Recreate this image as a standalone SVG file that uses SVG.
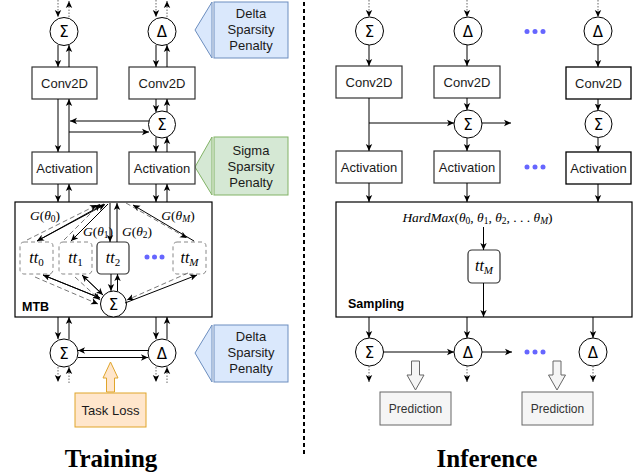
<svg xmlns="http://www.w3.org/2000/svg" width="639" height="475" viewBox="0 0 639 475">
<defs>
<marker id="ah" markerWidth="8" markerHeight="8" refX="7" refY="4" orient="auto" markerUnits="userSpaceOnUse">
<path d="M0,0.8 L7,4 L0,7.2 L1.8,4 z" fill="#000"/>
</marker>
<style>
.box{fill:#fff;stroke:#333;stroke-width:1.2}
.circ{fill:#fff;stroke:#000;stroke-width:1}
.lbl{font-family:"Liberation Sans",Arial,sans-serif;font-size:13px;fill:#1a1a1a;text-anchor:middle}
.sym{font-family:"DejaVu Sans",sans-serif;font-size:15px;fill:#000;text-anchor:middle}
.math{font-family:"Liberation Serif","DejaVu Serif",serif;font-style:italic;fill:#000;text-anchor:middle}
.up{font-style:normal}
.c{fill:none;stroke:#000;stroke-width:1;marker-end:url(#ah)}
.dot{fill:none;stroke:#666;stroke-width:1;stroke-dasharray:1.5,1.5;marker-end:url(#ah)}
.dash{fill:none;stroke:#555;stroke-width:0.8;stroke-dasharray:5,3;marker-end:url(#ah)}
.bold{font-family:"Liberation Sans",Arial,sans-serif;font-weight:bold;font-size:12.5px;fill:#000}
.title{font-family:"Liberation Serif","Times New Roman",serif;font-weight:bold;font-size:25px;fill:#000;text-anchor:middle}
.bdot{fill:#6666ff}
.pred{fill:#f5f5f5;stroke:#666;stroke-width:1}
.predt{font-family:"Liberation Sans",Arial,sans-serif;font-size:12px;fill:#333;text-anchor:middle}
</style>
</defs>
<rect width="639" height="475" fill="#fff"/>

<!-- divider -->
<line x1="304" y1="2" x2="304" y2="456" stroke="#000" stroke-width="2" stroke-dasharray="4,3"/>

<!-- ===== TRAINING ===== -->
<g id="mtb">
<rect x="15" y="202" width="197" height="115" fill="#fff" stroke="#000" stroke-width="1.2"/>
<text class="bold" x="22" y="311">MTB</text>
</g>

<g id="callout-delta-top">
<polygon points="212,2 195,30 212,58" fill="#dae8fc" stroke="#6c8ebf" stroke-width="1"/>
<rect x="214" y="2" width="74" height="56" fill="#dae8fc" stroke="#6c8ebf" stroke-width="1"/>
<text class="lbl" x="251" y="18">Delta</text>
<text class="lbl" x="251" y="34">Sparsity</text>
<text class="lbl" x="251" y="50">Penalty</text>
</g>
<g id="callout-sigma">
<polygon points="212,137 195,167 212,195" fill="#d5e8d4" stroke="#82b366" stroke-width="1"/>
<rect x="214" y="137" width="74" height="58" fill="#d5e8d4" stroke="#82b366" stroke-width="1"/>
<text class="lbl" x="251" y="155">Sigma</text>
<text class="lbl" x="251" y="171">Sparsity</text>
<text class="lbl" x="251" y="187">Penalty</text>
</g>
<g id="callout-delta-bottom">
<polygon points="212,325 195,353 212,382" fill="#dae8fc" stroke="#6c8ebf" stroke-width="1"/>
<rect x="214" y="325" width="74" height="57" fill="#dae8fc" stroke="#6c8ebf" stroke-width="1"/>
<text class="lbl" x="251" y="341">Delta</text>
<text class="lbl" x="251" y="357">Sparsity</text>
<text class="lbl" x="251" y="373">Penalty</text>
</g>

<g id="t-sum-top"><circle class="circ" cx="64" cy="31.5" r="14"/><text class="sym" x="64" y="37">Σ</text></g>
<g id="t-delta-top"><circle class="circ" cx="162" cy="31.5" r="14"/><text class="sym" x="162" y="37">Δ</text></g>
<g id="t-conv1"><rect class="box" x="32" y="67" width="65" height="32"/><text class="lbl" x="64.5" y="88">Conv2D</text></g>
<g id="t-conv2"><rect class="box" x="129" y="67" width="66" height="32"/><text class="lbl" x="162" y="88">Conv2D</text></g>
<g id="t-sum-mid"><circle class="circ" cx="162" cy="124.5" r="13.5"/><text class="sym" x="162" y="130">Σ</text></g>
<g id="t-act1"><rect class="box" x="32" y="152" width="65" height="32"/><text class="lbl" x="64.5" y="172.5">Activation</text></g>
<g id="t-act2"><rect class="box" x="129" y="152" width="66" height="32"/><text class="lbl" x="162" y="172.5">Activation</text></g>

<g id="tt0"><rect x="20" y="242" width="33" height="32" rx="4" fill="#fff" stroke="#888" stroke-dasharray="4,3"/><text class="math" x="36.5" y="263" font-size="16">tt<tspan class="up" font-size="11" dy="3">0</tspan></text></g>
<g id="tt1"><rect x="59" y="242" width="33" height="32" rx="4" fill="#fff" stroke="#888" stroke-dasharray="4,3"/><text class="math" x="75.5" y="263" font-size="16">tt<tspan class="up" font-size="11" dy="3">1</tspan></text></g>
<g id="tt2"><rect x="97" y="242" width="32" height="32" rx="4" fill="#fff" stroke="#333" stroke-width="1.2"/><text class="math" x="113" y="263" font-size="16">tt<tspan class="up" font-size="11" dy="3">2</tspan></text></g>
<g id="ttM"><rect x="173" y="242" width="33" height="32" rx="4" fill="#fff" stroke="#888" stroke-dasharray="4,3"/><text class="math" x="189.5" y="263" font-size="16">tt<tspan font-size="11" dy="3">M</tspan></text></g>
<g id="t-dots"><circle class="bdot" cx="147" cy="257" r="2.5"/><circle class="bdot" cx="154.5" cy="257" r="2.5"/><circle class="bdot" cx="162" cy="257" r="2.5"/></g>
<g id="t-sum-mtb"><circle class="circ" cx="113.5" cy="304" r="13"/><text class="sym" x="113.5" y="309.5">Σ</text></g>

<g id="g-labels">
<text class="math" x="45" y="220" font-size="13.5">G<tspan class="up">(</tspan>θ<tspan class="up" font-size="9.5" dy="2">0</tspan><tspan class="up" dy="-2">)</tspan></text>
<text class="math" x="98" y="236" font-size="13.5">G<tspan class="up">(</tspan>θ<tspan class="up" font-size="9.5" dy="2">1</tspan><tspan class="up" dy="-2">)</tspan></text>
<text class="math" x="137" y="236" font-size="13.5">G<tspan class="up">(</tspan>θ<tspan class="up" font-size="9.5" dy="2">2</tspan><tspan class="up" dy="-2">)</tspan></text>
<text class="math" x="178" y="220" font-size="13.5">G<tspan class="up">(</tspan>θ<tspan font-size="9.5" dy="2">M</tspan><tspan class="up" dy="-2">)</tspan></text>
</g>

<g id="t-sum-bot"><circle class="circ" cx="64" cy="353" r="14"/><text class="sym" x="64" y="358.5">Σ</text></g>
<g id="t-delta-bot"><circle class="circ" cx="162" cy="353" r="14"/><text class="sym" x="162" y="358.5">Δ</text></g>

<g id="task-loss">
<polygon points="110.5,362 118,378 114.5,378 114.5,392 106.5,392 106.5,378 103,378" fill="#ffe6cc" stroke="#e0a52b" stroke-width="1"/>
<rect x="75" y="393" width="71" height="34" fill="#ffe6cc" stroke="#e0a52b" stroke-width="1"/>
<text class="lbl" x="110.5" y="414.5">Task Loss</text>
</g>

<text class="title" x="111" y="467">Training</text>

<!-- ===== INFERENCE ===== -->
<g id="i-sum-top"><circle class="circ" cx="369.5" cy="31" r="14"/><text class="sym" x="369.5" y="36.5">Σ</text></g>
<g id="i-delta-top"><circle class="circ" cx="468" cy="31" r="14"/><text class="sym" x="468" y="36.5">Δ</text></g>
<g id="i-dots-top"><circle class="bdot" cx="527" cy="31.5" r="2.5"/><circle class="bdot" cx="535" cy="31.5" r="2.5"/><circle class="bdot" cx="543" cy="31.5" r="2.5"/></g>
<g id="i-delta-top3"><circle class="circ" cx="598" cy="31" r="14"/><text class="sym" x="598" y="36.5">Δ</text></g>
<g id="i-conv1"><rect class="box" x="336" y="66" width="66" height="32"/><text class="lbl" x="369" y="87">Conv2D</text></g>
<g id="i-conv2"><rect class="box" x="434" y="66" width="66" height="32"/><text class="lbl" x="467" y="87">Conv2D</text></g>
<g id="i-conv3"><rect x="566" y="67" width="65" height="32" fill="#fff" stroke="#000" stroke-width="1.3"/><text class="lbl" x="598.5" y="88">Conv2D</text></g>
<g id="i-sum-mid2"><circle class="circ" cx="468" cy="124" r="14"/><text class="sym" x="468" y="129.5">Σ</text></g>
<g id="i-sum-mid3"><circle class="circ" cx="598.5" cy="124" r="13.5"/><text class="sym" x="598.5" y="129.5">Σ</text></g>
<g id="i-act1"><rect class="box" x="336" y="151" width="66" height="32"/><text class="lbl" x="369" y="171.5">Activation</text></g>
<g id="i-act2"><rect class="box" x="434" y="151" width="66" height="32"/><text class="lbl" x="467" y="171.5">Activation</text></g>
<g id="i-dots-mid"><circle class="bdot" cx="527" cy="167" r="2.5"/><circle class="bdot" cx="535" cy="167" r="2.5"/><circle class="bdot" cx="543" cy="167" r="2.5"/></g>
<g id="i-act3"><rect x="566" y="152" width="65" height="32" fill="#fff" stroke="#000" stroke-width="1.3"/><text class="lbl" x="598.5" y="172.5">Activation</text></g>

<g id="sampling">
<rect x="336" y="202" width="296" height="115" fill="#fff" stroke="#000" stroke-width="1.2"/>
<text class="math" x="477.5" y="222" font-size="13.5">HardMax<tspan class="up">(</tspan>θ<tspan class="up" font-size="9.5" dy="2">0</tspan><tspan class="up" dy="-2">, </tspan>θ<tspan class="up" font-size="9.5" dy="2">1</tspan><tspan class="up" dy="-2">, </tspan>θ<tspan class="up" font-size="9.5" dy="2">2</tspan><tspan class="up" dy="-2">, . . . </tspan>θ<tspan font-size="9.5" dy="2">M</tspan><tspan class="up" dy="-2">)</tspan></text>
<text class="bold" x="348" y="308">Sampling</text>
</g>
<g id="i-ttM"><rect x="468" y="250" width="32" height="33" rx="4" fill="#fff" stroke="#333" stroke-width="1.2"/><text class="math" x="484" y="271" font-size="16">tt<tspan font-size="11" dy="3">M</tspan></text></g>

<g id="i-sum-bot"><circle class="circ" cx="369.5" cy="352" r="14"/><text class="sym" x="369.5" y="357.5">Σ</text></g>
<g id="i-delta-bot"><circle class="circ" cx="468" cy="352" r="14"/><text class="sym" x="468" y="357.5">Δ</text></g>
<g id="i-dots-bot"><circle class="bdot" cx="527" cy="352" r="2.5"/><circle class="bdot" cx="535" cy="352" r="2.5"/><circle class="bdot" cx="543" cy="352" r="2.5"/></g>
<g id="i-delta-bot3"><circle class="circ" cx="593" cy="352" r="14"/><text class="sym" x="593" y="357.5">Δ</text></g>

<g id="pred1">
<polygon points="411.5,361 419.5,361 419.5,375 424,375 415.5,390 407,375 411.5,375" fill="#f5f5f5" stroke="#666" stroke-width="1"/>
<rect class="pred" x="380" y="392" width="71" height="33"/><text class="predt" x="415.5" y="413">Prediction</text>
</g>
<g id="pred2">
<polygon points="553,361 561,361 561,375 565.5,375 557,390 548.5,375 553,375" fill="#f5f5f5" stroke="#666" stroke-width="1"/>
<rect class="pred" x="522" y="392" width="71" height="33"/><text class="predt" x="557.5" y="413">Prediction</text>
</g>

<text class="title" x="487" y="467">Inference</text>

<!-- ===== CONNECTORS ===== -->
<g id="connectors">
<line class="dot" x1="58" y1="0" x2="58" y2="17"/>
<line class="dot" x1="69" y1="17" x2="69" y2="1"/>
<line class="dot" x1="156" y1="0" x2="156" y2="17"/>
<line class="dot" x1="167" y1="17" x2="167" y2="1"/>
<line class="c" x1="58" y1="45" x2="58" y2="67"/>
<line class="c" x1="69" y1="67" x2="69" y2="45"/>
<line class="c" x1="156" y1="45" x2="156" y2="67"/>
<line class="c" x1="167" y1="67" x2="167" y2="45"/>
<line class="c" x1="58" y1="99" x2="58" y2="152"/>
<line class="c" x1="69" y1="152" x2="69" y2="99"/>
<line class="c" x1="156" y1="99" x2="156" y2="112"/>
<line class="c" x1="167" y1="112" x2="167" y2="99"/>
<line class="c" x1="156" y1="137" x2="156" y2="152"/>
<line class="c" x1="167" y1="152" x2="167" y2="137"/>
<line class="c" x1="149" y1="121" x2="70" y2="121"/>
<line class="c" x1="69" y1="132" x2="149" y2="132"/>
<line class="c" x1="58" y1="184" x2="58" y2="202"/>
<line class="c" x1="69" y1="202" x2="69" y2="184"/>
<line class="c" x1="156" y1="184" x2="156" y2="202"/>
<line class="c" x1="167" y1="202" x2="167" y2="184"/>
<line class="c" x1="104" y1="204" x2="37" y2="241"/>
<line class="c" x1="37" y1="241" x2="105" y2="204.5"/>
<line class="dash" x1="27" y1="240" x2="97" y2="205"/>
<line class="c" x1="108" y1="204" x2="71" y2="241"/>
<line class="dash" x1="64" y1="240" x2="100" y2="204"/>
<line class="c" x1="110" y1="203" x2="110" y2="242"/>
<line class="c" x1="117" y1="242" x2="117" y2="203"/>
<line class="c" x1="194" y1="241" x2="133" y2="205"/>
<line class="dash" x1="126" y1="203" x2="187" y2="238"/>
<line class="c" x1="100" y1="298" x2="43" y2="275"/>
<line class="c" x1="43" y1="275" x2="100" y2="298"/>
<line class="dash" x1="35" y1="277" x2="98" y2="304"/>
<line class="c" x1="103" y1="295" x2="82" y2="275"/>
<line class="c" x1="82" y1="275" x2="103" y2="295"/>
<line class="dash" x1="75" y1="277" x2="100" y2="300"/>
<line class="c" x1="111" y1="274" x2="111" y2="291"/>
<line class="c" x1="117.5" y1="291" x2="117.5" y2="274"/>
<line class="c" x1="125" y1="303" x2="197" y2="275"/>
<line class="dash" x1="188" y1="273" x2="127" y2="300"/>
<line class="c" x1="58" y1="317" x2="58" y2="339"/>
<line class="c" x1="69" y1="339" x2="69" y2="317"/>
<line class="c" x1="156" y1="317" x2="156" y2="339"/>
<line class="c" x1="167" y1="339" x2="167" y2="317"/>
<line class="c" x1="148" y1="350.5" x2="78" y2="350.5"/>
<line class="c" x1="78" y1="357.5" x2="148" y2="357.5"/>
<line class="dot" x1="58" y1="367" x2="58" y2="382"/>
<line class="dot" x1="69" y1="383" x2="69" y2="367"/>
<line class="dot" x1="156" y1="367" x2="156" y2="382"/>
<line class="dot" x1="167" y1="383" x2="167" y2="367"/>

<line class="dot" x1="369" y1="0" x2="369" y2="17"/>
<line class="dot" x1="467" y1="0" x2="467" y2="17"/>
<line class="dot" x1="598" y1="0" x2="598" y2="17"/>
<line class="c" x1="369" y1="45" x2="369" y2="66"/>
<line class="c" x1="467" y1="45" x2="467" y2="66"/>
<line class="c" x1="598" y1="45" x2="598" y2="67"/>
<line class="c" x1="369" y1="98" x2="369" y2="151"/>
<polyline class="c" points="369,123 454,123"/>
<line class="c" x1="467" y1="98" x2="467" y2="110"/>
<line class="c" x1="467" y1="138" x2="467" y2="151"/>
<line class="c" x1="482" y1="123" x2="511" y2="123"/>
<line class="c" x1="598" y1="99" x2="598" y2="110.5"/>
<line class="c" x1="598" y1="137.5" x2="598" y2="152"/>
<line class="c" x1="369" y1="183" x2="369" y2="202"/>
<line class="c" x1="467" y1="183" x2="467" y2="202"/>
<line class="c" x1="598" y1="184" x2="598" y2="202"/>
<line class="c" x1="483.5" y1="227" x2="483.5" y2="250"/>
<line class="c" x1="483.5" y1="283" x2="483.5" y2="317"/>
<line class="c" x1="369" y1="317" x2="369" y2="338"/>
<line class="c" x1="467" y1="317" x2="467" y2="338"/>
<line class="c" x1="593" y1="317" x2="593" y2="338"/>
<line class="c" x1="383.5" y1="352" x2="454" y2="352"/>
<line class="c" x1="482" y1="352" x2="512" y2="352"/>
<line class="dot" x1="369" y1="366" x2="369" y2="382"/>
<line class="dot" x1="467" y1="366" x2="467" y2="382"/>
<line class="dot" x1="593" y1="366" x2="593" y2="382"/>
</g>
</svg>
